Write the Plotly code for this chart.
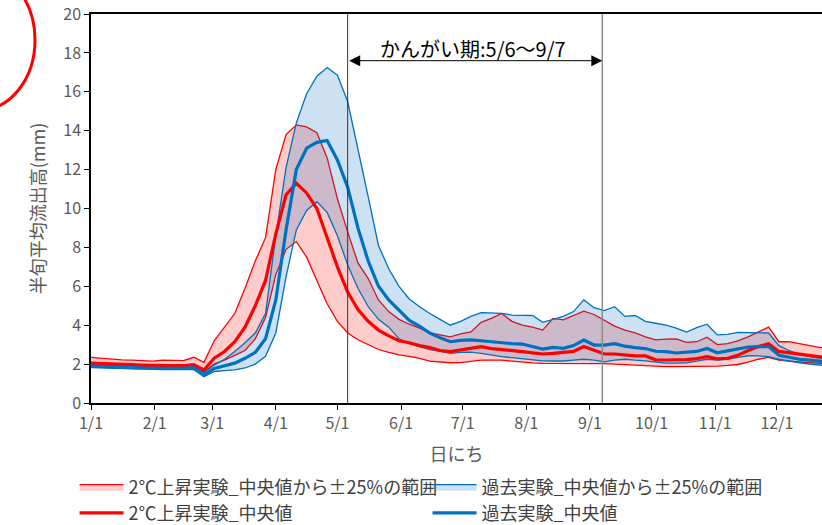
import plotly.graph_objects as go

# half-month (5-day) periods, start day-of-year offsets
period_start_day = [5 * i for i in range(73)]

red_upper = [2.35, 2.3, 2.25, 2.22, 2.2, 2.18, 2.15, 2.2, 2.2, 2.18,
             2.35, 2.09, 3.2, 3.9, 4.6, 5.9, 7.3, 8.5, 12.0, 13.8,
             14.3, 14.2, 13.9, 12.6, 10.5, 8.8, 7.2, 6.4, 5.3, 4.7,
             4.3, 4.05, 3.85, 3.6, 3.5, 3.4, 3.55, 3.65, 4.15, 4.35,
             4.6, 4.2, 4.0, 3.9, 3.75, 4.35, 4.27, 4.5, 4.72, 4.55,
             4.25, 3.95, 3.75, 3.6, 3.4, 3.25, 3.28, 3.3, 3.12, 3.15,
             3.38, 3.0, 3.05, 3.2, 3.4, 3.65, 3.9, 3.15, 3.15, 3.05,
             2.95, 2.82, 2.75]
red_median = [2.05, 2.02, 2.0, 1.98, 1.97, 1.95, 1.93, 1.92, 1.92, 1.92,
              1.97, 1.7, 2.3, 2.65, 3.15, 3.9, 5.0, 6.3, 8.7, 10.7,
              11.3, 10.8, 10.0, 8.5, 7.0, 5.7, 4.8, 4.2, 3.75, 3.45,
              3.2, 3.1, 2.95, 2.85, 2.7, 2.64, 2.72, 2.8, 2.9, 2.8,
              2.76, 2.7, 2.64, 2.58, 2.52, 2.55, 2.59, 2.65, 2.9, 2.69,
              2.52, 2.52, 2.47, 2.42, 2.42, 2.22, 2.21, 2.21, 2.23, 2.28,
              2.38, 2.27, 2.3, 2.45, 2.7, 2.9, 3.05, 2.65, 2.58, 2.48,
              2.42, 2.36, 2.3]
red_lower = [1.98, 1.95, 1.93, 1.9, 1.88, 1.87, 1.86, 1.86, 1.85, 1.85,
             1.9, 1.6, 2.0, 2.2, 2.45, 2.7, 3.3, 4.4, 6.6, 7.9,
             8.3, 7.5, 6.3, 5.1, 4.2, 3.6, 3.25, 3.0, 2.75, 2.6,
             2.47, 2.4, 2.3, 2.15, 2.1, 2.07, 2.08, 2.15, 2.2, 2.2,
             2.2, 2.15, 2.1, 2.06, 2.04, 2.04, 2.04, 2.04, 2.04, 2.04,
             2.02, 2.0, 1.97, 1.95, 1.92, 1.88, 1.87, 1.87, 1.87, 1.87,
             1.88, 1.9, 1.93, 1.98, 2.1, 2.25, 2.35, 2.2, 2.15, 2.1,
             2.07, 2.04, 2.0]
blue_upper = [2.0, 1.97, 1.95, 1.93, 1.92, 1.9, 1.9, 1.88, 1.88, 1.88,
              1.9, 1.55, 1.95, 2.25, 2.65, 3.1, 3.6, 4.6, 8.6, 12.1,
              14.4, 15.9, 16.8, 17.25, 16.85, 15.5, 13.1, 10.6, 8.1, 6.9,
              6.0, 5.35, 4.95, 4.6, 4.3, 4.0, 4.2, 4.45, 4.65, 4.62,
              4.61, 4.52, 4.52, 4.5, 4.15, 4.3, 4.45, 4.7, 5.3, 4.9,
              4.75, 4.95, 4.45, 4.5, 4.2, 4.1, 4.0, 3.85, 3.65, 3.87,
              4.05, 3.5, 3.53, 3.63, 3.63, 3.62, 3.6, 2.95, 2.7, 2.5,
              2.4, 2.3, 2.25]
blue_median = [1.9, 1.87, 1.85, 1.84, 1.82, 1.8, 1.79, 1.78, 1.78, 1.78,
               1.8, 1.42, 1.78, 1.9, 2.05, 2.3, 2.6, 3.3, 5.3, 8.9,
               12.0, 13.1, 13.4, 13.5, 12.5, 11.1, 9.0, 7.3, 6.0, 5.3,
               4.75, 4.25, 3.95, 3.6, 3.35, 3.15, 3.22, 3.25, 3.2, 3.15,
               3.07, 3.05, 3.03, 2.9, 2.77, 2.86, 2.81, 2.95, 3.24, 2.98,
               2.98, 3.05, 2.92, 2.85, 2.8, 2.66, 2.64, 2.57, 2.6, 2.65,
               2.8, 2.58, 2.68, 2.78, 2.88, 2.9, 2.9, 2.45, 2.33, 2.25,
               2.2, 2.13, 2.1]
blue_lower = [1.82, 1.8, 1.78, 1.77, 1.75, 1.74, 1.73, 1.72, 1.72, 1.72,
              1.73, 1.35, 1.62, 1.66, 1.7, 1.8, 2.0, 2.4, 3.6, 6.5,
              8.9, 9.9, 10.35, 9.8, 8.6, 7.1, 5.9, 4.95, 4.3, 3.9,
              3.3, 3.05, 2.9, 2.75, 2.65, 2.55, 2.6, 2.62, 2.55, 2.45,
              2.38, 2.33, 2.27, 2.22, 2.17, 2.16, 2.16, 2.2, 2.25, 2.2,
              2.12, 2.2, 2.25, 2.2, 2.17, 2.1, 2.05, 2.05, 2.07, 2.15,
              2.25, 2.2, 2.25, 2.35, 2.43, 2.42, 2.38, 2.25, 2.15, 2.07,
              2.0, 1.93, 1.9]

month_tick_days = [0, 31, 59, 90, 120, 151, 181, 212, 243, 273, 304, 334]
month_tick_labels = ["1/1", "2/1", "3/1", "4/1", "5/1", "6/1",
                     "7/1", "8/1", "9/1", "10/1", "11/1", "12/1"]
y_ticks = [0, 2, 4, 6, 8, 10, 12, 14, 16, 18, 20]

irrigation_start_day = 125   # 5/6
irrigation_end_day = 249     # 9/7
irrigation_label = "かんがい期:5/6〜9/7"

RED = "#ff0000"
BLUE = "#0070c0"
FONT = "Noto Sans CJK JP"
GREY = "#595959"

fig = go.Figure()

# red band
fig.add_trace(go.Scatter(x=period_start_day, y=red_lower, mode="lines",
                         line=dict(color=RED, width=1.3), showlegend=False,
                         hoverinfo="skip"))
fig.add_trace(go.Scatter(x=period_start_day, y=red_upper, mode="lines",
                         line=dict(color=RED, width=1.3), fill="tonexty",
                         fillcolor="rgba(255,0,0,0.2)",
                         name="2℃上昇実験_中央値から±25%の範囲", legend="legend"))
# blue band
fig.add_trace(go.Scatter(x=period_start_day, y=blue_lower, mode="lines",
                         line=dict(color=BLUE, width=1.3), showlegend=False,
                         hoverinfo="skip"))
fig.add_trace(go.Scatter(x=period_start_day, y=blue_upper, mode="lines",
                         line=dict(color=BLUE, width=1.3), fill="tonexty",
                         fillcolor="rgba(0,112,192,0.2)",
                         name="過去実験_中央値から±25%の範囲", legend="legend"))
# medians
fig.add_trace(go.Scatter(x=period_start_day, y=red_median, mode="lines",
                         line=dict(color=RED, width=3.2),
                         name="2℃上昇実験_中央値", legend="legend2"))
fig.add_trace(go.Scatter(x=period_start_day, y=blue_median, mode="lines",
                         line=dict(color=BLUE, width=3.2),
                         name="過去実験_中央値", legend="legend2"))

# irrigation period lines
fig.add_shape(type="line", xref="x", yref="y", x0=irrigation_start_day,
              x1=irrigation_start_day, y0=0, y1=20,
              line=dict(color="#333333", width=1))
fig.add_shape(type="line", xref="x", yref="y", x0=irrigation_end_day,
              x1=irrigation_end_day, y0=0, y1=20,
              line=dict(color="#8c8c8c", width=1.5))

# double arrow
fig.add_annotation(x=irrigation_end_day, y=17.6, ax=irrigation_start_day, ay=17.6,
                   xref="x", yref="y", axref="x", ayref="y", text="",
                   showarrow=True, arrowhead=2, startarrowhead=2,
                   arrowside="end+start", arrowsize=2.2, startarrowsize=2.2,
                   arrowwidth=1, arrowcolor="black")
fig.add_annotation(x=186, y=18.25, xref="x", yref="y", text=irrigation_label,
                   showarrow=False, font=dict(family=FONT, size=20, color="black"))

# red hand-drawn circle (top-left decoration)
fig.add_shape(type="circle", xref="paper", yref="paper",
              x0=-0.2271, x1=-0.0766, y0=0.7532, y1=1.1131,
              line=dict(color=RED, width=3))

fig.update_layout(
    width=822, height=525,
    margin=dict(l=91, r=0, t=14, b=122, autoexpand=False),
    paper_bgcolor="white", plot_bgcolor="white",
    font=dict(family=FONT, size=16, color=GREY),
    xaxis=dict(range=[0, 356], tickmode="array", tickvals=month_tick_days,
               ticktext=month_tick_labels, ticks="outside", ticklen=5,
               tickcolor="black", showgrid=False, zeroline=False,
               showline=True, linecolor="black", linewidth=2, mirror=True,
               automargin=False,
               tickfont=dict(size=16, color=GREY),
               title=dict(text="日にち", font=dict(size=18, color=GREY), standoff=15)),
    yaxis=dict(range=[0, 20], tickmode="array", tickvals=y_ticks,
               ticks="outside", ticklen=5, tickcolor="black",
               showgrid=False, zeroline=False, showline=True,
               linecolor="black", linewidth=1.5, automargin=False,
               tickfont=dict(size=16, color=GREY),
               title=dict(text="半旬平均流出高(mm)", font=dict(size=18, color=GREY),
                          standoff=13)),
    legend=dict(orientation="h", x=-0.0225, y=-0.216, xanchor="left", yanchor="middle",
                entrywidth=294, entrywidthmode="pixels", traceorder="normal",
                itemwidth=44,
                font=dict(size=18, color="#404040"), bgcolor="rgba(0,0,0,0)"),
    legend2=dict(orientation="h", x=-0.0225, y=-0.283, xanchor="left", yanchor="middle",
                 entrywidth=294, entrywidthmode="pixels", traceorder="normal",
                 itemwidth=44,
                 font=dict(size=18, color="#404040"), bgcolor="rgba(0,0,0,0)"),
)

fig.write_html("out.html", config={"displayModeBar": False},
               post_script="document.body.style.margin='0';"
                           "document.documentElement.style.overflow='hidden';")
